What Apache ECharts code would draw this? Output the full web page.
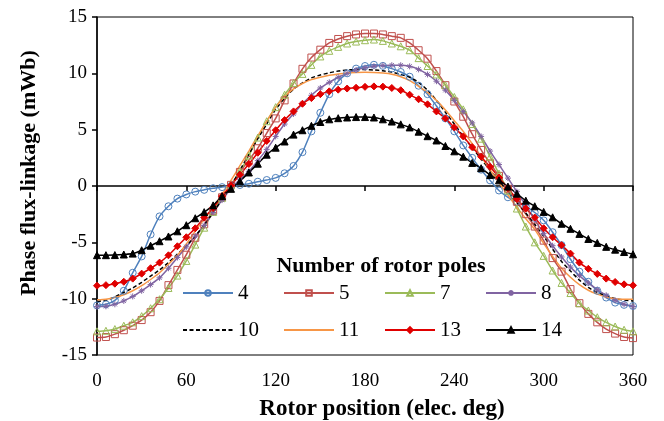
<!DOCTYPE html>
<html>
<head>
<meta charset="utf-8">
<script src="https://cdn.jsdelivr.net/npm/echarts@6/dist/echarts.min.js"></script>
<style>
  html, body { margin: 0; padding: 0; background: #fff; }
  #chart { width: 664px; height: 421px; }
</style>
</head>
<body>
<div id="chart"></div>
<script>
// rotor position, elec. deg (one point every 6 deg)
const angles = [0, 6, 12, 18, 24, 30, 36, 42, 48, 54, 60, 66, 72, 78, 84, 90, 96, 102, 108, 114, 120,
  126, 132, 138, 144, 150, 156, 162, 168, 174, 180, 186, 192, 198, 204, 210, 216, 222, 228, 234, 240,
  246, 252, 258, 264, 270, 276, 282, 288, 294, 300, 306, 312, 318, 324, 330, 336, 342, 348, 354, 360];

// phase flux-linkage (mWb)
const poles4 = [-10.6, -10.5, -10.15, -9.3, -7.7, -6.25, -4.3, -2.7, -1.8, -1.12, -0.75, -0.5, -0.34, -0.2, -0.1, 0.0, 0.09, 0.2, 0.38, 0.53, 0.72,
  1.13, 1.78, 3.0, 4.85, 6.5, 8.15, 9.29, 10.0, 10.42, 10.65, 10.76, 10.66, 10.42, 10.12, 9.7, 8.9, 8.15, 7.1, 6.0, 4.85,
  3.6, 2.5, 1.45, 0.5, -0.4, -1.0, -1.4, -1.8, -2.35, -3.05, -4.1, -5.25, -6.5, -7.6, -8.5, -9.3, -9.9, -10.35, -10.55, -10.65];
const poles5 = [-13.45, -13.4, -13.15, -12.8, -12.4, -11.9, -11.2, -10.2, -8.8, -7.45, -6.1, -4.6, -3.4, -2.2, -1.0, 0.1, 1.25, 2.3, 3.35, 4.7, 6.0,
  7.6, 9.1, 10.4, 11.4, 12.1, 12.7, 13.05, 13.3, 13.45, 13.53, 13.53, 13.45, 13.3, 13.15, 12.7, 12.05, 11.3, 10.2, 8.95, 7.5,
  6.15, 4.6, 3.2, 2.0, 0.9, -0.25, -1.4, -2.5, -3.6, -4.85, -6.4, -7.6, -9.15, -10.4, -11.35, -12.1, -12.7, -13.1, -13.4, -13.5];
const poles7 = [-12.9, -12.85, -12.7, -12.4, -12.1, -11.55, -10.85, -10.05, -9.05, -7.95, -6.65, -5.2, -3.7, -2.3, -1.05, 0.05, 1.3, 2.7, 4.3, 5.75, 7.0,
  8.1, 9.15, 9.95, 10.75, 11.5, 12.0, 12.35, 12.65, 12.82, 12.94, 13.0, 12.88, 12.65, 12.4, 12.05, 11.35, 10.65, 9.9, 8.95, 7.9,
  6.8, 5.5, 4.2, 2.6, 1.1, -0.4, -2.0, -3.6, -5.0, -6.2, -7.5, -8.6, -9.5, -10.4, -11.05, -11.65, -12.1, -12.47, -12.76, -12.9];
const poles8 = [-10.7, -10.68, -10.5, -10.2, -9.8, -9.3, -8.75, -8.15, -7.3, -6.35, -5.4, -4.45, -3.5, -2.35, -1.25, -0.25, 0.6, 1.3, 2.25, 3.25, 4.4,
  5.5, 6.4, 7.3, 8.05, 8.7, 9.2, 9.65, 10.0, 10.3, 10.5, 10.63, 10.7, 10.72, 10.72, 10.62, 10.35, 9.9, 9.3, 8.5, 7.6,
  6.6, 5.6, 4.4, 3.1, 1.9, 0.7, -0.5, -1.75, -3.0, -4.2, -5.3, -6.3, -7.2, -7.95, -8.6, -9.2, -9.7, -10.15, -10.5, -10.7];
const poles10 = [-10.25, -10.15, -9.85, -9.45, -9.05, -8.55, -8.0, -7.45, -6.8, -6.05, -5.3, -4.45, -3.45, -2.35, -1.2, 0.0, 1.4, 2.8, 4.2, 5.5, 6.8,
  7.8, 8.6, 9.15, 9.6, 9.85, 10.05, 10.2, 10.3, 10.33, 10.33, 10.3, 10.22, 10.1, 9.9, 9.65, 9.2, 8.5, 7.6, 6.55, 5.5,
  4.4, 3.4, 2.4, 1.4, 0.45, -0.5, -1.5, -2.4, -3.4, -4.45, -5.6, -6.7, -7.55, -8.35, -9.0, -9.45, -9.75, -10.0, -10.12, -10.2];
const poles11 = [-10.1, -10.05, -9.9, -9.65, -9.3, -8.85, -8.3, -7.7, -6.95, -6.15, -5.15, -4.0, -2.95, -1.9, -0.75, 0.5, 1.8, 3.1, 4.45, 5.75, 7.0,
  7.95, 8.62, 9.1, 9.44, 9.65, 9.82, 9.95, 10.04, 10.08, 10.09, 10.07, 10.02, 9.92, 9.7, 9.35, 8.85, 8.3, 7.6, 6.75, 5.8,
  4.85, 3.75, 2.6, 1.45, 0.3, -0.8, -1.9, -2.9, -3.85, -5.1, -6.25, -7.3, -8.1, -8.75, -9.25, -9.6, -9.85, -10.0, -10.05, -10.06];
const poles13 = [-8.85, -8.8, -8.67, -8.5, -8.22, -7.78, -7.3, -6.8, -6.15, -5.35, -4.55, -3.75, -2.8, -1.95, -0.9, 0.05, 1.0, 1.95, 2.95, 4.0, 4.95,
  5.85, 6.62, 7.3, 7.8, 8.15, 8.4, 8.55, 8.65, 8.72, 8.8, 8.84, 8.82, 8.7, 8.5, 8.1, 7.7, 7.25, 6.62, 6.0, 5.2,
  4.4, 3.45, 2.6, 1.7, 0.75, -0.2, -1.15, -2.0, -2.8, -3.75, -4.55, -5.25, -6.0, -6.8, -7.35, -7.8, -8.22, -8.52, -8.73, -8.82];
const poles14 = [-6.14, -6.14, -6.13, -6.08, -6.0, -5.7, -5.3, -4.9, -4.48, -4.02, -3.48, -2.86, -2.32, -1.72, -0.9, -0.25, 0.42, 1.2, 1.98, 2.78, 3.4,
  3.95, 4.56, 4.95, 5.34, 5.68, 5.92, 6.02, 6.08, 6.12, 6.12, 6.08, 5.92, 5.72, 5.47, 5.2, 4.82, 4.42, 4.04, 3.55, 3.08,
  2.6, 2.05, 1.58, 0.98, 0.5, -0.05, -0.68, -1.3, -1.8, -2.3, -2.78, -3.35, -3.8, -4.25, -4.7, -5.05, -5.4, -5.65, -5.86, -6.06];

const names = ['4', '5', '7', '8', '10', '11', '13', '14'];
const values = [poles4, poles5, poles7, poles8, poles10, poles11, poles13, poles14];

const FONT = '"Liberation Serif", "Times New Roman", serif';
const asterisk = 'path://M0,5L10,5M5,0L5,10M1.5,1.5L8.5,8.5M8.5,1.5L1.5,8.5';

// marker look per series
const looks = [
  { color: '#4F81BD', symbol: 'circle', size: 7, hollow: true },
  { color: '#C0504D', symbol: 'rect', size: 7, hollow: true },
  { color: '#9BBB59', symbol: 'triangle', size: 7, hollow: true },
  { color: '#8064A2', symbol: asterisk, size: 6 },
  { color: '#000000', symbol: null, dashed: true },
  { color: '#F79646', symbol: null },
  { color: '#E00000', symbol: 'diamond', size: 7 },
  { color: '#000000', symbol: 'triangle', size: 7 }
];

const series = names.map((name, i) => {
  const look = looks[i];
  const noMarker = look.symbol === null;
  let itemStyle;
  if (noMarker) {
    itemStyle = { color: 'rgba(0,0,0,0)', borderWidth: 0 };
  } else if (look.hollow) {
    itemStyle = { color: 'rgba(255,255,255,0)', borderColor: look.color, borderWidth: 1 };
  } else {
    itemStyle = { color: look.color, borderColor: look.color, borderWidth: 1 };
  }
  return {
    name: name,
    type: 'line',
    data: angles.map((a, k) => [a, values[i][k]]),
    smooth: 0.2,
    symbol: noMarker ? 'circle' : look.symbol,
    symbolSize: noMarker ? 1 : look.size,
    showSymbol: !noMarker,
    lineStyle: {
      color: look.color,
      width: 1.5,
      type: look.dashed ? [4, 2.5] : 'solid'
    },
    itemStyle: itemStyle,
    emphasis: { disabled: true },
    animation: false
  };
});

function legendRow(data, top) {
  return {
    data: data,
    left: 182,
    top: top,
    orient: 'horizontal',
    padding: 0,
    itemGap: 0,
    itemWidth: 50,
    itemHeight: 7,
    textStyle: {
      fontFamily: FONT,
      fontSize: 21,
      color: '#000',
      width: 45,
      lineHeight: 24
    },
    selectedMode: false
  };
}

const chart = echarts.init(document.getElementById('chart'), null, { renderer: 'canvas' });
chart.setOption({
  backgroundColor: '#fff',
  animation: false,
  title: {
    text: 'Number of rotor poles',
    left: 376,
    top: 250,
    textAlign: 'center',
    textStyle: { fontFamily: FONT, fontSize: 22, fontWeight: 'bold', color: '#000' }
  },
  legend: [
    legendRow(names.slice(0, 4), 281),
    legendRow(names.slice(4), 318)
  ],
  grid: {
    left: 97,
    right: 31,
    top: 17,
    bottom: 66,
    outerBoundsMode: 'none',
    show: true,
    borderColor: '#000',
    borderWidth: 1
  },
  xAxis: {
    type: 'value',
    min: 0,
    max: 360,
    interval: 60,
    name: 'Rotor position (elec. deg)',
    nameLocation: 'middle',
    nameGap: 43,
    nameTextStyle: { fontFamily: FONT, fontSize: 23, fontWeight: 'bold', color: '#000', padding: [0, 0, 0, 34] },
    axisLine: { lineStyle: { color: '#000', width: 1.5 } },
    axisTick: { show: true, length: 5, lineStyle: { color: '#000', width: 1.5 } },
    axisLabel: { fontFamily: FONT, fontSize: 19, color: '#000', margin: 17 },
    splitLine: { show: false }
  },
  yAxis: {
    type: 'value',
    min: -15,
    max: 15,
    interval: 5,
    name: 'Phase flux-linkage (mWb)',
    nameLocation: 'middle',
    nameGap: 57,
    nameTextStyle: { fontFamily: FONT, fontSize: 22, fontWeight: 'bold', color: '#000', padding: [0, 0, 0, 26] },
    axisLine: { onZero: false, lineStyle: { color: '#000', width: 1.5 } },
    axisTick: { show: true, length: 5, lineStyle: { color: '#000', width: 1.5 } },
    axisLabel: { fontFamily: FONT, fontSize: 19, color: '#000', margin: 10 },
    splitLine: { show: false }
  },
  series: series
});
</script>
</body>
</html>
